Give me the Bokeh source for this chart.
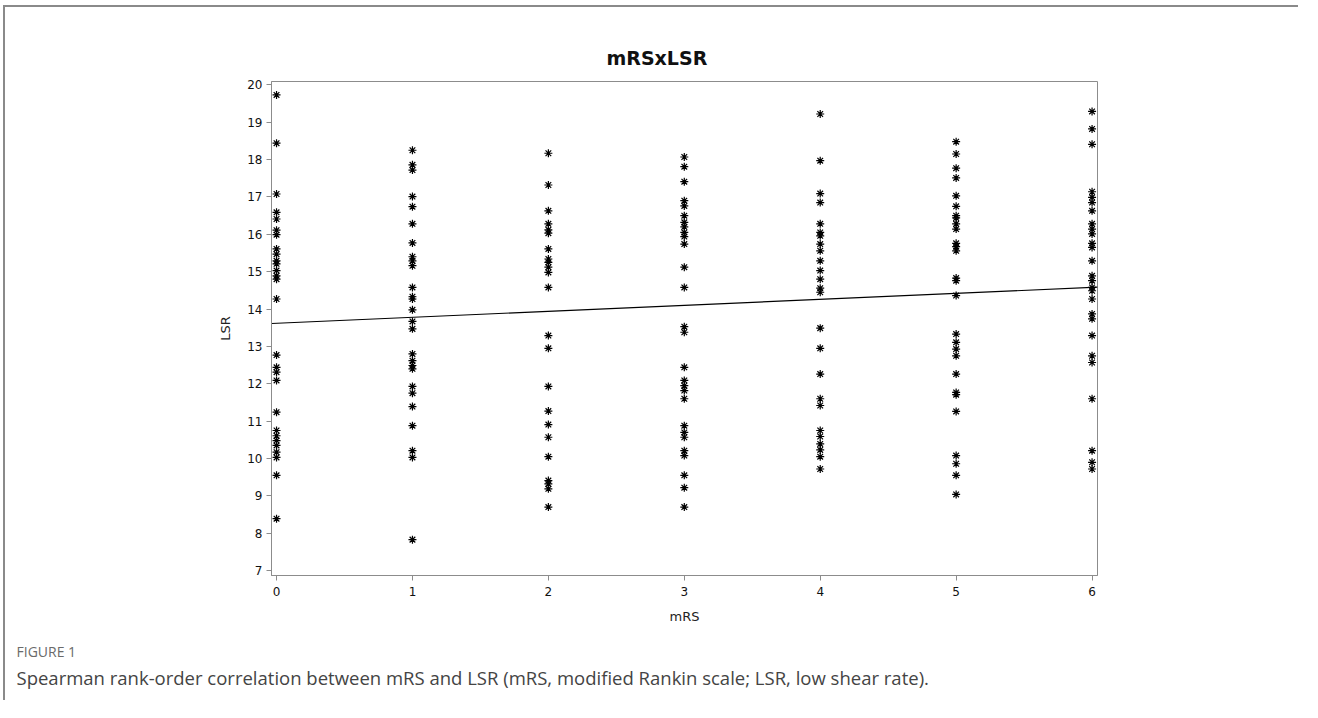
from bokeh.plotting import figure
from bokeh.models import Range1d, FixedTicker, ColumnDataSource, Title
from bokeh.embed import file_html
from bokeh.resources import INLINE

# --- data ---
mrs_levels = [0, 1, 2, 3, 4, 5, 6]
lsr_mrs0 = [19.73, 18.44, 17.08, 16.59, 16.41, 16.11, 15.99, 15.61, 15.47, 15.29, 15.21, 15.03, 14.89, 14.80,
            14.27, 12.77, 12.44, 12.31, 12.09, 11.24, 10.75, 10.61, 10.48, 10.35, 10.17, 10.03, 9.55, 8.39]
lsr_mrs1 = [18.25, 17.86, 17.72, 17.01, 16.74, 16.28, 15.77, 15.40, 15.29, 15.16, 14.58, 14.33, 14.27, 13.98,
            13.67, 13.47, 12.80, 12.62, 12.49, 12.40, 11.93, 11.75, 11.39, 10.88, 10.21, 10.03, 7.83]
lsr_mrs2 = [18.17, 17.32, 16.63, 16.28, 16.12, 16.03, 15.61, 15.34, 15.25, 15.12, 14.98, 14.58,
            13.29, 12.95, 11.93, 11.27, 10.91, 10.57, 10.05, 9.41, 9.32, 9.19, 8.70]
lsr_mrs3 = [18.07, 17.81, 17.41, 16.90, 16.76, 16.50, 16.32, 16.20, 16.05, 15.94, 15.74, 15.12, 14.58,
            13.53, 13.38, 12.44, 12.09, 11.95, 11.82, 11.60, 10.88, 10.70, 10.57, 10.21, 10.08, 9.55, 9.22, 8.70]
lsr_mrs4 = [19.22, 17.97, 17.09, 16.85, 16.28, 16.05, 15.96, 15.74, 15.56, 15.29, 15.03, 14.80, 14.56, 14.45,
            13.49, 12.95, 12.26, 11.60, 11.42, 10.75, 10.59, 10.39, 10.23, 10.05, 9.72]
lsr_mrs5 = [18.48, 18.15, 17.77, 17.51, 17.03, 16.75, 16.50, 16.44, 16.28, 16.14, 15.76, 15.67, 15.56,
            14.83, 14.76, 14.36, 13.33, 13.11, 12.93, 12.75, 12.26, 11.77, 11.71, 11.26, 10.08, 9.86, 9.55, 9.04]
lsr_mrs6 = [19.29, 18.82, 18.41, 17.14, 16.99, 16.85, 16.63, 16.28, 16.14, 16.01, 15.76, 15.65, 15.29,
            14.89, 14.76, 14.58, 14.49, 14.27, 13.87, 13.74, 13.29, 12.75, 12.57, 11.60, 10.21, 9.90, 9.72]
lsr_groups = [lsr_mrs0, lsr_mrs1, lsr_mrs2, lsr_mrs3, lsr_mrs4, lsr_mrs5, lsr_mrs6]

fit_intercept = 13.62
fit_slope = 0.16

x_ticks = [0, 1, 2, 3, 4, 5, 6]
y_ticks = list(range(7, 21))

title_text = "mRSxLSR"
x_label = "mRS"
y_label = "LSR"
fig_label = "FIGURE 1"
caption = "Spearman rank-order correlation between mRS and LSR (mRS, modified Rankin scale; LSR, low shear rate)."

# --- build ---
xs, ys = [], []
for lvl, grp in zip(mrs_levels, lsr_groups):
    xs += [lvl] * len(grp)
    ys += grp
src = ColumnDataSource(dict(x=xs, y=ys))

x0, x1 = -0.037, 6.04
p = figure(width=1295, height=695, output_backend="svg", toolbar_location=None,
           x_range=Range1d(x0, x1), y_range=Range1d(6.87, 20.09),
           min_border_left=266, min_border_right=203, min_border_top=74, min_border_bottom=127)
p.styles = {"border-top": "2px solid #8a8a8a", "border-left": "2px solid #8a8a8a",
            "margin-top": "5px", "margin-left": "3px"}
p.background_fill_color = "white"
p.border_fill_color = "white"
p.outline_line_color = "#8c8c8c"
p.outline_line_width = 1
p.grid.visible = False

for ax in (p.xaxis[0], p.yaxis[0]):
    ax.axis_line_color = "#8c8c8c"
    ax.major_tick_line_color = "#8c8c8c"
    ax.major_tick_out = 5
    ax.major_tick_in = 0
    ax.minor_tick_line_color = None
    ax.major_label_text_font = "DejaVu Sans"
    ax.major_label_text_font_size = "12px"
    ax.major_label_text_color = "#111111"
    ax.axis_label_text_font = "DejaVu Sans"
    ax.axis_label_text_font_size = "13px"
    ax.axis_label_text_font_style = "normal"
    ax.axis_label_text_color = "#222222"

p.xaxis.ticker = FixedTicker(ticks=x_ticks)
p.yaxis.ticker = FixedTicker(ticks=y_ticks)
p.xaxis.axis_label = x_label
p.yaxis.axis_label = y_label
p.xaxis.major_label_standoff = 6
p.xaxis.axis_label_standoff = 10
p.yaxis.major_label_standoff = 4
p.yaxis.axis_label_standoff = 11

fit_x = [x0, x1]
fit_y = [fit_intercept + fit_slope * v for v in fit_x]
p.line(fit_x, fit_y, line_color="black", line_width=1.2)

p.scatter("x", "y", source=src, marker="asterisk", size=8, line_color="black", line_width=1.2)

p.title = Title(text=title_text, align="left", offset=335, standoff=25,
                text_font="DejaVu Sans", text_font_size="19px", text_font_style="bold",
                text_color="#111111")

p.add_layout(Title(text=fig_label, align="left", offset=-255, standoff=27,
                   text_font="Open Sans", text_font_size="14px", text_font_style="normal",
                   text_color="#6a6a6a"), "below")
p.add_layout(Title(text=caption, align="left", offset=-255, standoff=-30,
                   text_font="Open Sans", text_font_size="18.5px", text_font_style="normal",
                   text_color="#444444"), "below")

open("out.html", "w").write(file_html(p, INLINE))
